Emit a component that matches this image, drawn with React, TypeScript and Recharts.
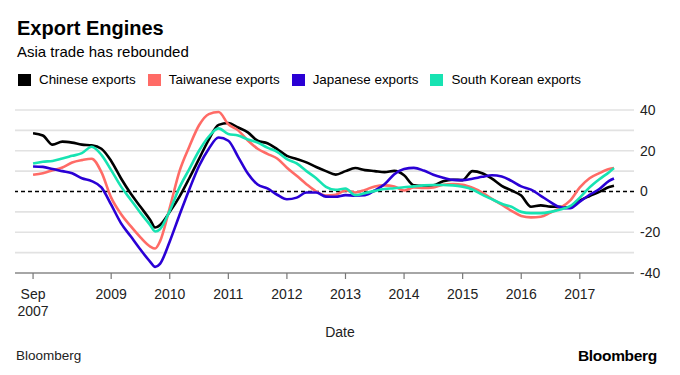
import { LineChart, Line, XAxis, YAxis, ReferenceLine } from 'recharts';

// months since Sep 2007
const months = [
  0, 2, 4, 6, 8, 10, 12, 14, 16, 18, 20, 22, 24, 25, 26, 28, 30, 32, 34, 36, 38, 40, 42, 44, 46, 48, 50,
  52, 54, 56, 58, 60, 62, 64, 66, 68, 70, 72, 74, 76, 78, 80, 82, 84, 86, 88, 90, 92, 94, 96, 98, 100,
  102, 104, 106, 108, 110, 112, 114, 116, 118, 119,
];

const chinese = [
  28.6, 27.5, 23, 24.5, 24, 23, 22.7, 21, 15, 6.5, -1, -7.5, -14, -17.7, -16.5, -10, -2.5, 6.5, 16, 25.5,
  32.7, 33.6, 31.4, 29, 24.9, 23.7, 20.8, 17.5, 16, 14.3, 12, 10, 8.3, 10, 11.5, 10.5, 10, 9.5, 10.1, 8, 3,
  2.7, 3, 5, 5.8, 5.6, 10, 9, 6.3, 2.8, 0.5, -2, -7.5, -6.8, -7.4, -7.5, -7.9, -4.5, -2.2, -0.2, 2.2, 2.8,
];

const taiwanese = [
  8.2, 9, 10.4, 11.8, 14.2, 15.4, 16.1, 9.5, -3, -11, -17, -22.5, -27, -28, -24.5, -8, 10, 22, 32.5, 38,
  39, 33, 30, 25, 21, 18.5, 16.2, 11.7, 7.7, 3.6, 0, -2, -1.6, 0.5, -0.5, 0.8, 2.5, 3, 2.5, 0.5, 2, 1.7, 2,
  3.3, 3.6, 3.3, 1.8, -0.5, -3.6, -6.5, -9.5, -12, -12.7, -12.4, -10.3, -8, -4.5, 2, 6.5, 9, 11, 11.5,
];

const japanese = [
  12.3, 12.1, 11, 10, 9, 6.5, 5.1, 2, -6.5, -15.5, -22, -28.5, -34.5, -37, -35.5, -24.5, -11.5, 1, 12.5,
  21, 26.5, 24.9, 17, 8.8, 3.4, 1.5, -1.6, -3.8, -3, -0.5, -0.5, -2.5, -2.6, -1.8, -2, -1.8, 0.5, 3.5, 8.5,
  11, 11.6, 10.3, 8.2, 6.8, 5.7, 5.6, 6.3, 7.2, 8, 7.4, 5.2, 2.5, 0.9, -2.1, -5.2, -7.8, -8.2, -5, -1.6,
  1.2, 5.2, 6.4,
];

const southKorean = [
  13.7, 14.6, 15, 16.2, 17.5, 18.8, 22, 18, 10.5, 2.5, -4, -10.5, -16.5, -19.6, -18.5, -9.5, 2, 11, 20, 27,
  31, 28.2, 27.5, 25.5, 24, 21.5, 19.5, 15.9, 13.8, 10, 6.5, 2.3, 0.8, 1.5, -1.8, -0.8, 0.3, 1.2, 1.6, 2.1,
  2.5, 3, 3.2, 3.2, 3, 2.3, 1, -1.5, -3.8, -6, -7.5, -10, -10.6, -10.6, -10, -8.8, -7.2, -3, 2, 6, 9.5, 11.5,
];

const xTicks = [0, 16, 28, 40, 52, 64, 76, 88, 100, 112];
const xTickLabels = ['Sep|2007', '2009', '2010', '2011', '2012', '2013', '2014', '2015', '2016', '2017'];
const yTicks = [-40, -20, 0, 20, 40];
const gridValues = [-30, -20, -10, 10, 20, 30, 40];

const series = [
  { key: 'chinese', name: 'Chinese exports', color: '#000000' },
  { key: 'taiwanese', name: 'Taiwanese exports', color: '#ff6b66' },
  { key: 'japanese', name: 'Japanese exports', color: '#2a00d5' },
  { key: 'southKorean', name: 'South Korean exports', color: '#17e3b2' },
];

const data = months.map((m, i) => ({
  m,
  chinese: chinese[i],
  taiwanese: taiwanese[i],
  japanese: japanese[i],
  southKorean: southKorean[i],
}));

const FONT = '"Liberation Sans", Arial, Helvetica, sans-serif';

function XTick({ x, y, payload }: any) {
  const idx = xTicks.indexOf(payload.value);
  const lines = (xTickLabels[idx] ?? '').split('|');
  return (
    <text x={x} y={y} textAnchor="middle" fill="#222" fontSize={14} fontFamily={FONT}>
      {lines.map((l, i) => (
        <tspan key={i} x={x} dy={i === 0 ? 18 : 17}>
          {l}
        </tspan>
      ))}
    </text>
  );
}

export default function App() {
  return (
    <div
      style={{
        position: 'fixed',
        left: 0,
        top: 0,
        width: 680,
        height: 375,
        background: '#fff',
        fontFamily: FONT,
        color: '#000',
      }}
    >
      <div style={{ position: 'absolute', left: 0, top: 0 }}>
        <LineChart
          width={680}
          height={320}
          data={data}
          margin={{ top: 110, right: 0, bottom: 7, left: 15 }}
        >
          {gridValues.map((v) => (
            <ReferenceLine key={v} y={v} stroke="#e2e2e2" strokeWidth={1.6} />
          ))}
          <XAxis
            dataKey="m"
            type="number"
            domain={[-3.7, 123.1]}
            ticks={xTicks}
            interval={0}
            height={40}
            tickSize={6}
            tickMargin={2}
            stroke="#777"
            axisLine={{ stroke: '#888', strokeWidth: 1.5 }}
            tickLine={{ stroke: '#777', strokeWidth: 1.2 }}
            tick={<XTick />}
          />
          <YAxis
            orientation="right"
            type="number"
            domain={[-40, 40]}
            ticks={yTicks}
            width={46}
            tickSize={4}
            tickMargin={2}
            axisLine={false}
            tickLine={false}
            tick={{ fill: '#222', fontSize: 14, fontFamily: FONT, textAnchor: 'start' }}
          />
          <ReferenceLine y={0} stroke="#000" strokeWidth={1.4} strokeDasharray="4 3" />
          {series.map((s) => (
            <Line
              key={s.key}
              type="monotone"
              dataKey={s.key}
              stroke={s.color}
              strokeWidth={2.6}
              dot={false}
              isAnimationActive={false}
            />
          ))}
        </LineChart>
      </div>

      <div style={{ position: 'absolute', left: 17, top: 18, fontSize: 20, lineHeight: '20px', fontWeight: 700 }}>
        Export Engines
      </div>
      <div style={{ position: 'absolute', left: 17, top: 44, fontSize: 15, lineHeight: '15px' }}>
        Asia trade has rebounded
      </div>
      <div
        style={{
          position: 'absolute',
          left: 18,
          top: 73,
          display: 'flex',
          alignItems: 'center',
          fontSize: 13.4,
          lineHeight: '14px',
        }}
      >
        {series.map((s) => (
          <div key={s.key} style={{ display: 'flex', alignItems: 'center', marginRight: 12 }}>
            <span style={{ width: 13, height: 12, background: s.color, marginRight: 8, display: 'inline-block' }} />
            <span>{s.name}</span>
          </div>
        ))}
      </div>

      <div style={{ position: 'absolute', left: 0, width: 680, top: 324, textAlign: 'center', fontSize: 14, color: '#222' }}>
        Date
      </div>
      <div style={{ position: 'absolute', left: 16, top: 348, fontSize: 13.5, color: '#222' }}>Bloomberg</div>
      <div
        style={{
          position: 'absolute',
          right: 23,
          top: 347,
          fontSize: 15.5,
          fontWeight: 700,
          letterSpacing: -0.3,
        }}
      >
        Bloomberg
      </div>
    </div>
  );
}
